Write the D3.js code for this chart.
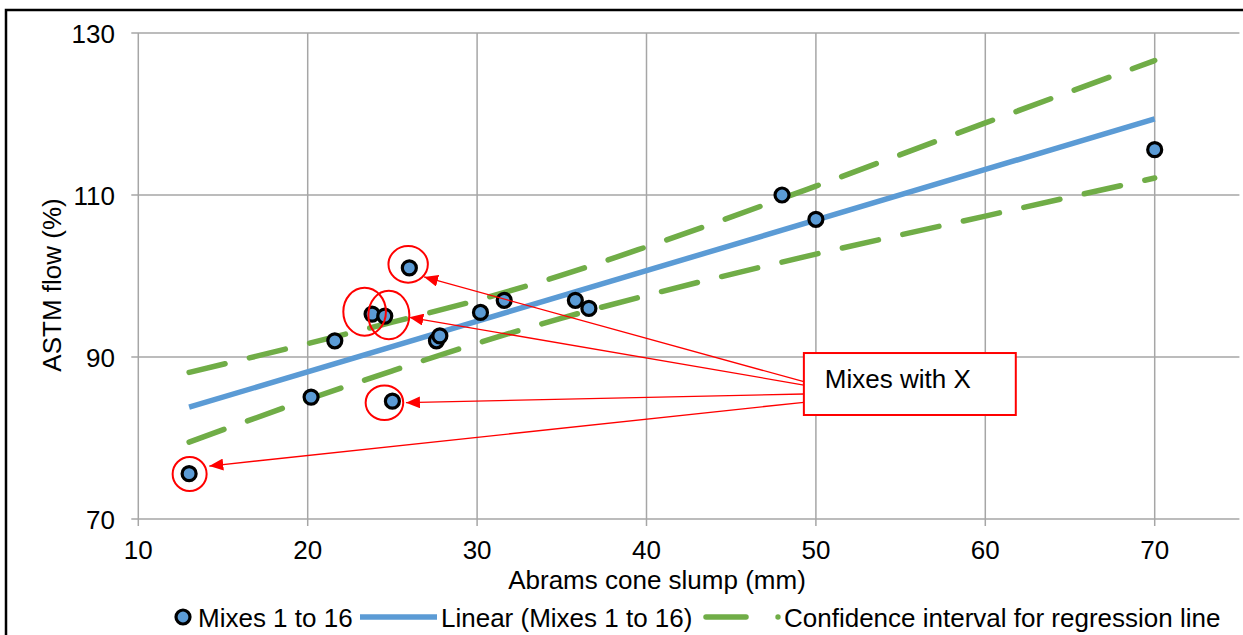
<!DOCTYPE html>
<html><head><meta charset="utf-8">
<script src="https://cdn.jsdelivr.net/npm/d3@7/dist/d3.min.js"></script>
<style>body{margin:0;background:#fff}svg{display:block}text{font-family:"Liberation Sans",Arial,sans-serif;fill:#000}</style>
</head><body><svg id="c" width="1243" height="635"></svg>
<script>
// ---- data ----
const slump = [13, 20.2, 21.6, 23.8, 24.55, 25.0, 26.0, 27.6, 27.8, 30.2, 31.6, 35.8, 36.6, 48.0, 50.0, 70.0];
const flow  = [75.6, 85.05, 92.0, 95.3, 95.05, 84.55, 101.0, 92.0, 92.6, 95.5, 97.0, 97.0, 96.0, 110.0, 107.0, 115.6];
const linearX = [13, 70];
const linearY = [83.8, 119.4];
const ciX     = [13, 20, 25, 30, 35, 40, 50, 60, 70];
const ciUpper = [88.1, 91.65, 94.3, 97.0, 100.1, 103.6, 111.1, 118.9, 126.6];
const ciLower = [79.5, 84.75, 88.3, 91.7, 94.8, 97.6, 102.7, 107.4, 112.1];
const xTicks = [10, 20, 30, 40, 50, 60, 70];
const yTicks = [70, 90, 110, 130];
const legendLabels = ["Mixes 1 to 16", "Linear (Mixes 1 to 16)", "Confidence interval for regression line"];
// annotation (data coordinates)
const noteText = "Mixes with X";
const noteCircles = [[25.93, 101.44], [23.36, 95.59], [24.79, 95.19], [24.53, 84.35], [13.03, 75.56]];
const noteRadii = [[19.7, 18.3], [21.3, 24], [20.5, 24.3], [18.8, 17.2], [17, 17]];
const arrowFrom = [[49.29, 86.95], [49.29, 86.54], [49.29, 85.43], [49.29, 84.41]];
const arrowTo = [[26.87, 99.88], [26.0, 94.9], [25.8, 84.36], [14.19, 76.54]];
const noteBox = [49.29, 90.49, 61.8, 82.84];

// ---- layout ----
const svg = d3.select("#c");
const x = d3.scaleLinear().domain([10, 75]).range([138.3, 1239.4]);
const y = d3.scaleLinear().domain([70, 130]).range([519, 33]);
const BLUE = "#5B9BD5", GREEN = "#70AD47", GRID = "#A6A6A6", RED = "#FF0000";

// frame
svg.append("rect").attr("x", 6).attr("y", 10).attr("width", 1400).attr("height", 800)
  .attr("fill", "none").attr("stroke", "#000").attr("stroke-width", 2.5);

// grid
const g = svg.append("g");
g.selectAll(".hg").data(yTicks).join("line")
  .attr("x1", x(10) - 7).attr("x2", x(75)).attr("y1", d => y(d)).attr("y2", d => y(d))
  .attr("stroke", GRID).attr("stroke-width", 1.5);
g.selectAll(".vg").data(xTicks).join("line")
  .attr("x1", d => x(d)).attr("x2", d => x(d)).attr("y1", y(130)).attr("y2", y(70) + 7)
  .attr("stroke", GRID).attr("stroke-width", 1.5);

// tick labels
g.selectAll(".yl").data(yTicks).join("text")
  .attr("x", 115).attr("y", d => y(d) + 9.5).attr("text-anchor", "end")
  .attr("font-size", 26).text(d => d);
g.selectAll(".xl").data(xTicks).join("text")
  .attr("x", d => x(d)).attr("y", 559).attr("text-anchor", "middle")
  .attr("font-size", 26).text(d => d);

// axis titles
svg.append("text").attr("x", 657).attr("y", 589).attr("text-anchor", "middle")
  .attr("font-size", 26).text("Abrams cone slump (mm)");
svg.append("text").attr("transform", "translate(61,285) rotate(-90)").attr("text-anchor", "middle")
  .attr("font-size", 26).text("ASTM flow (%)");

// confidence curves
const curve = d3.line().x(d => x(d[0])).y(d => y(d[1])).curve(d3.curveMonotoneX);
[ciUpper, ciLower].forEach(arr => {
  svg.append("path").attr("d", curve(ciX.map((v, i) => [v, arr[i]])))
    .attr("fill", "none").attr("stroke", GREEN).attr("stroke-width", 5.5)
    .attr("stroke-linecap", "round").attr("stroke-dasharray", "37,25");
});
// linear trend
svg.append("path").attr("d", d3.line().x(d => x(d[0])).y(d => y(d[1]))(linearX.map((v, i) => [v, linearY[i]])))
  .attr("fill", "none").attr("stroke", BLUE).attr("stroke-width", 5.5);

// points
svg.selectAll(".pt").data(slump.map((v, i) => [v, flow[i]])).join("circle")
  .attr("cx", d => x(d[0])).attr("cy", d => y(d[1])).attr("r", 7)
  .attr("fill", BLUE).attr("stroke", "#000").attr("stroke-width", 3.2);

// annotation
const ann = svg.append("g");
ann.selectAll(".nc").data(noteCircles).join("ellipse")
  .attr("cx", d => x(d[0])).attr("cy", d => y(d[1]))
  .attr("rx", (d, i) => noteRadii[i][0]).attr("ry", (d, i) => noteRadii[i][1])
  .attr("fill", "none").attr("stroke", RED).attr("stroke-width", 2);
svg.append("defs").append("marker").attr("id", "ah").attr("viewBox", "0 0 14 12")
  .attr("refX", 14).attr("refY", 6).attr("markerWidth", 14).attr("markerHeight", 12)
  .attr("markerUnits", "userSpaceOnUse").attr("orient", "auto")
  .append("path").attr("d", "M0,0 L14,6 L0,12 Z").attr("fill", RED);
ann.selectAll(".ar").data(arrowFrom).join("line")
  .attr("x1", d => x(d[0])).attr("y1", d => y(d[1]))
  .attr("x2", (d, i) => x(arrowTo[i][0])).attr("y2", (d, i) => y(arrowTo[i][1]))
  .attr("stroke", RED).attr("stroke-width", 1.3).attr("marker-end", "url(#ah)");
ann.append("rect").attr("x", x(noteBox[0])).attr("y", y(noteBox[1]))
  .attr("width", x(noteBox[2]) - x(noteBox[0])).attr("height", y(noteBox[3]) - y(noteBox[1]))
  .attr("fill", "#fff").attr("stroke", RED).attr("stroke-width", 2);
ann.append("text").attr("x", x(noteBox[0]) + 21).attr("y", 388).attr("font-size", 26).text(noteText);

// legend
const ly = 617;
const lg = svg.append("g");
lg.append("circle").attr("cx", 183).attr("cy", ly).attr("r", 7).attr("fill", BLUE)
  .attr("stroke", "#000").attr("stroke-width", 3.2);
lg.append("text").attr("x", 198).attr("y", ly + 9.5).attr("font-size", 26).text(legendLabels[0]);
lg.append("line").attr("x1", 360).attr("x2", 437).attr("y1", ly).attr("y2", ly)
  .attr("stroke", BLUE).attr("stroke-width", 5.5);
lg.append("text").attr("x", 441).attr("y", ly + 9.5).attr("font-size", 26).text(legendLabels[1]);
lg.append("line").attr("x1", 706).attr("x2", 746).attr("y1", ly).attr("y2", ly)
  .attr("stroke", GREEN).attr("stroke-width", 5.5).attr("stroke-linecap", "round");
lg.append("circle").attr("cx", 778).attr("cy", ly).attr("r", 2.7).attr("fill", GREEN);
lg.append("text").attr("x", 784).attr("y", ly + 9.5).attr("font-size", 26).text(legendLabels[2]);
</script></body></html>
